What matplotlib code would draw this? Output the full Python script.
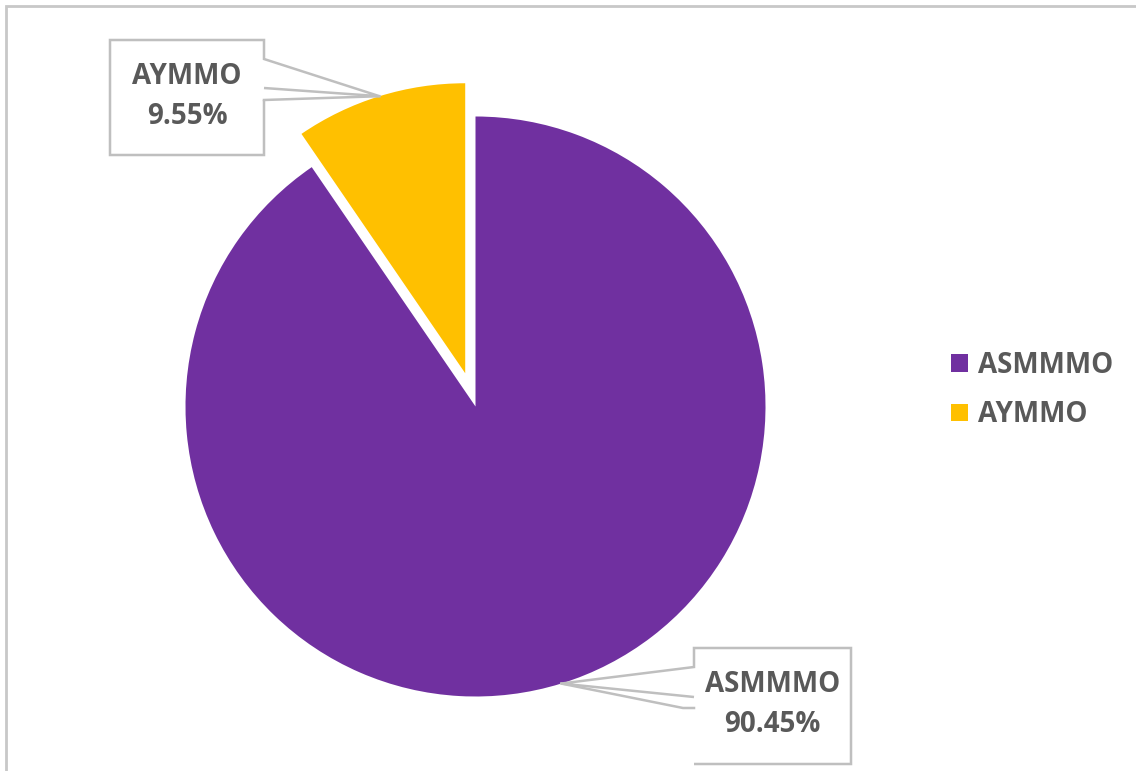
import numpy as np
import matplotlib.pyplot as plt
from matplotlib.patches import Polygon, Rectangle
from matplotlib.lines import Line2D

# Pie data
labels = ['ASMMMO', 'AYMMO']
shares = [90.45, 9.55]
colors = ['#7030A0', '#FFC000']
explode = [0, 0.12]

W, H = 1136, 771
txt_color = '#595959'
edge_gray = '#BFBFBF'
families = ['Open Sans', 'DejaVu Sans']
font = dict(family=families, weight='bold', color=txt_color)

fig = plt.figure(figsize=(W / 100, H / 100), dpi=100)
ax = fig.add_axes([0, 0, 1, 1])

# pixel-like coordinates, y measured upward
cx, cy, r = 475.5, H - 406.5, 290
# matplotlib's explode is an absolute offset, so scale it by the radius
wedges, _ = ax.pie(shares, colors=colors, explode=[e * r for e in explode],
                   startangle=90, counterclock=False, radius=r,
                   center=(cx, cy), wedgeprops=dict(linewidth=0))
ax.set_xlim(0, W)
ax.set_ylim(0, H)
ax.set_aspect('equal')
ax.axis('off')

# chart-area frame (runs off the right and bottom edges)
fig.add_artist(Rectangle((6 / W, -0.1), 1.2, (H - 6) / H + 0.1,
                         transform=fig.transFigure, fill=False,
                         edgecolor='#C8C8C8', linewidth=2))


def mid_point(w):
    ang = np.deg2rad((w.theta1 + w.theta2) / 2)
    x0, y0 = w.center
    return x0 + w.r * np.cos(ang), y0 + w.r * np.sin(ang)


def callout(box, pointer, extra, text):
    # box = (left, top, right, bottom), top-down pixel rows
    l, t, rr, b = box
    t, b = H - t, H - b
    ax.add_patch(Rectangle((l, b), rr - l, t - b, facecolor='white',
                           edgecolor='none', zorder=3))
    xs = [p[0] for p in pointer]
    ys = [H - p[1] for p in pointer]
    ax.add_patch(Polygon(list(zip(xs, ys)), closed=False, fill=False,
                         edgecolor=edge_gray, linewidth=1.8, zorder=4))
    ex = [p[0] for p in extra]
    ey = [H - p[1] for p in extra]
    ax.add_line(Line2D(ex, ey, color=edge_gray, linewidth=1.8, zorder=4))
    ax.text((l + rr) / 2, (t + b) / 2 + 1, text, ha='center', va='center',
            fontsize=20, linespacing=1.5, zorder=5, **font)


# AYMMO label (box on the left, pointer to the right)
tx, ty = mid_point(wedges[1])
tip = (tx, H - ty)
callout((110, 40, 264, 155),
        [(264, 88), tip, (264, 59), (264, 40), (110, 40), (110, 155),
         (264, 155), (264, 100)],
        [(264, 100), tip],
        f'{labels[1]}\n{shares[1]:.2f}%')

# ASMMMO label (box on the right, pointer to the left)
tx, ty = mid_point(wedges[0])
tip = (tx, H - ty)
callout((694, 648, 851, 764),
        [(694, 697), tip, (694, 667), (694, 648), (851, 648), (851, 764),
         (694, 764), (694, 697)],
        [tip, (683, 708), (694, 708)],
        f'{labels[0]}\n{shares[0]:.2f}%')

leg = ax.legend(wedges, labels, loc='center left',
                bbox_to_anchor=(940 / W, 1 - 390 / H), frameon=False,
                handlelength=0.6, handleheight=0.6, handletextpad=0.35,
                labelspacing=0.75, borderaxespad=0,
                prop=dict(family=families, weight='bold', size=20))
for t in leg.get_texts():
    t.set_color(txt_color)

fig.savefig('out.png', dpi=100, facecolor='white')
